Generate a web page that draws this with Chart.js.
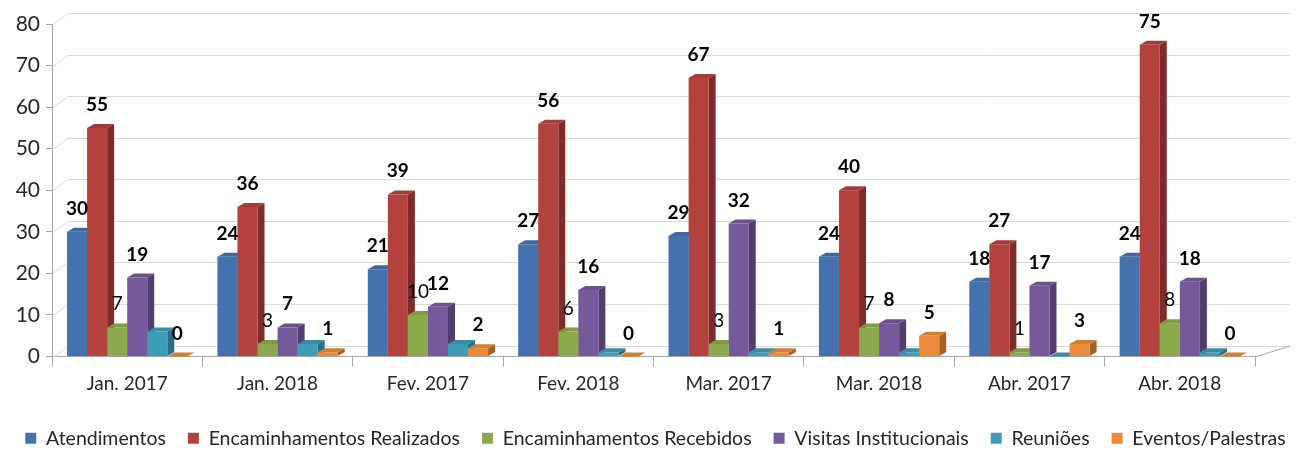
<!DOCTYPE html>
<html>
<head>
<meta charset="utf-8">
<script src="https://cdn.jsdelivr.net/npm/chart.js@4.4.1/dist/chart.umd.min.js"></script>
<style>
  html, body { margin: 0; padding: 0; background: #fff; }
  #wrap { width: 1311px; height: 450px; position: relative; }
</style>
</head>
<body>
<div id="wrap"><canvas id="grafico"></canvas></div>
<script>
// dados
const meses = ['Jan. 2017', 'Jan. 2018', 'Fev. 2017', 'Fev. 2018', 'Mar. 2017', 'Mar. 2018', 'Abr. 2017', 'Abr. 2018'];
const atendimentos = [30, 24, 21, 27, 29, 24, 18, 24];
const encRealizados = [55, 36, 39, 56, 67, 40, 27, 75];
const encRecebidos = [7, 3, 10, 6, 3, 7, 1, 8];
const visitas = [19, 7, 12, 16, 32, 8, 17, 18];
const reunioes = [6, 3, 3, 1, 1, 1, 0, 1];
const eventos = [0, 1, 2, 0, 1, 5, 3, 0];
const ticksY = [0, 10, 20, 30, 40, 50, 60, 70, 80];

const fonte = 'Lato, "Open Sans", sans-serif';

// cor da frente, lado e topo de cada serie
const series = [
  { nome: 'Atendimentos', dados: atendimentos, cor: '#4472AE', lado: '#2F5282', topo: '#3E68A0', rotulo: 'bold' },
  { nome: 'Encaminhamentos Realizados', dados: encRealizados, cor: '#B3423F', lado: '#7E2C2A', topo: '#A33C39', rotulo: 'bold' },
  { nome: 'Encaminhamentos Recebidos', dados: encRecebidos, cor: '#8CAA4C', lado: '#627A33', topo: '#7F9B44', rotulo: 'normal' },
  { nome: 'Visitas Institucionais', dados: visitas, cor: '#76599A', lado: '#523D6E', topo: '#6A508C', rotulo: 'bold' },
  { nome: 'Reuniões', dados: reunioes, cor: '#3E9CB6', lado: '#2A6F82', topo: '#378DA5', rotulo: null },
  { nome: 'Eventos/Palestras', dados: eventos, cor: '#E98B3A', lado: '#A85F22', topo: '#D67D30', rotulo: 'bold' }
];

const prof = { dx: 7, dy: 4 };      // profundidade das barras
const parede = { dx: 16, dy: 11 };  // inclinacao das linhas de grade

const efeito3d = {
  id: 'efeito3d',
  beforeDatasetsDraw(chart) {
    const ctx = chart.ctx;
    const area = chart.chartArea;
    const y = chart.scales.y;
    ctx.save();
    // linhas de grade inclinadas
    ctx.strokeStyle = '#D9D9D9';
    ctx.lineWidth = 1;
    ticksY.forEach(v => {
      const py = Math.round(y.getPixelForValue(v)) + 0.5;
      ctx.beginPath();
      ctx.moveTo(area.left + 1, py);
      ctx.lineTo(area.left + parede.dx, py - parede.dy);
      ctx.lineTo(area.right + 35, py - parede.dy);
      ctx.stroke();
    });
    // canto direito do piso
    ctx.strokeStyle = '#A6A6A6';
    ctx.beginPath();
    ctx.moveTo(area.right, area.bottom + 0.5);
    ctx.lineTo(area.right + 35, area.bottom - parede.dy + 0.5);
    ctx.stroke();
    // lados e topos das barras, da esquerda para a direita
    for (let i = 0; i < meses.length; i++) {
      chart.data.datasets.forEach((ds, d) => {
        const bar = chart.getDatasetMeta(d).data[i];
        const s = series[d];
        const esq = bar.x - bar.width / 2;
        const dir = bar.x + bar.width / 2;
        ctx.fillStyle = s.lado;
        ctx.beginPath();
        ctx.moveTo(dir, bar.y);
        ctx.lineTo(dir + prof.dx, bar.y - prof.dy);
        ctx.lineTo(dir + prof.dx, bar.base - prof.dy);
        ctx.lineTo(dir, bar.base);
        ctx.closePath();
        ctx.fill();
        ctx.fillStyle = s.topo;
        ctx.beginPath();
        ctx.moveTo(esq, bar.y);
        ctx.lineTo(esq + prof.dx, bar.y - prof.dy);
        ctx.lineTo(dir + prof.dx, bar.y - prof.dy);
        ctx.lineTo(dir, bar.y);
        ctx.closePath();
        ctx.fill();
      });
    }
    ctx.restore();
  },
  afterDatasetsDraw(chart) {
    const ctx = chart.ctx;
    ctx.save();
    ctx.fillStyle = '#000';
    ctx.textAlign = 'center';
    ctx.textBaseline = 'alphabetic';
    chart.data.datasets.forEach((ds, d) => {
      const s = series[d];
      if (!s.rotulo) return;
      ctx.font = s.rotulo + ' 19px ' + fonte;
      chart.getDatasetMeta(d).data.forEach((bar, i) => {
        ctx.fillText(String(ds.data[i]), bar.x, bar.y - 17);
      });
    });
    ctx.restore();
  }
};

new Chart(document.getElementById('grafico'), {
  type: 'bar',
  data: {
    labels: meses,
    datasets: series.map(s => ({
      label: s.nome,
      data: s.dados,
      backgroundColor: s.cor,
      borderWidth: 0
    }))
  },
  options: {
    responsive: true,
    maintainAspectRatio: false,
    animation: false,
    datasets: { bar: { categoryPercentage: 0.8, barPercentage: 1.0 } },
    layout: { padding: { top: 24, right: 0, bottom: -8, left: 0 } },
    plugins: {
      tooltip: { enabled: false },
      legend: {
        position: 'bottom',
        labels: {
          boxWidth: 11,
          boxHeight: 11,
          padding: 22,
          color: '#262626',
          font: { family: fonte, size: 19.5 }
        }
      }
    },
    scales: {
      x: {
        grid: { display: true, drawOnChartArea: false, offset: true, tickLength: 10, color: '#A6A6A6' },
        border: { display: true, color: '#A6A6A6' },
        ticks: { color: '#262626', font: { family: fonte, size: 19 }, padding: 6 },
        afterFit: s => { s.height = 50; }
      },
      y: {
        min: 0,
        max: 80,
        afterBuildTicks: s => { s.ticks = ticksY.map(v => ({ value: v })); },
        grid: { display: true, drawOnChartArea: false, tickLength: 6, color: '#A6A6A6' },
        border: { display: true, color: '#A6A6A6' },
        ticks: { color: '#262626', font: { family: fonte, size: 21 }, padding: 6 },
        afterFit: s => { s.width = 52; }
      },
      // eixo vazio a direita, so para reservar espaco do piso inclinado
      folga: {
        position: 'right',
        display: true,
        grid: { display: false },
        border: { display: false },
        ticks: { display: false },
        afterFit: s => { s.width = 56; }
      }
    }
  },
  plugins: [efeito3d]
});
</script>
</body>
</html>
